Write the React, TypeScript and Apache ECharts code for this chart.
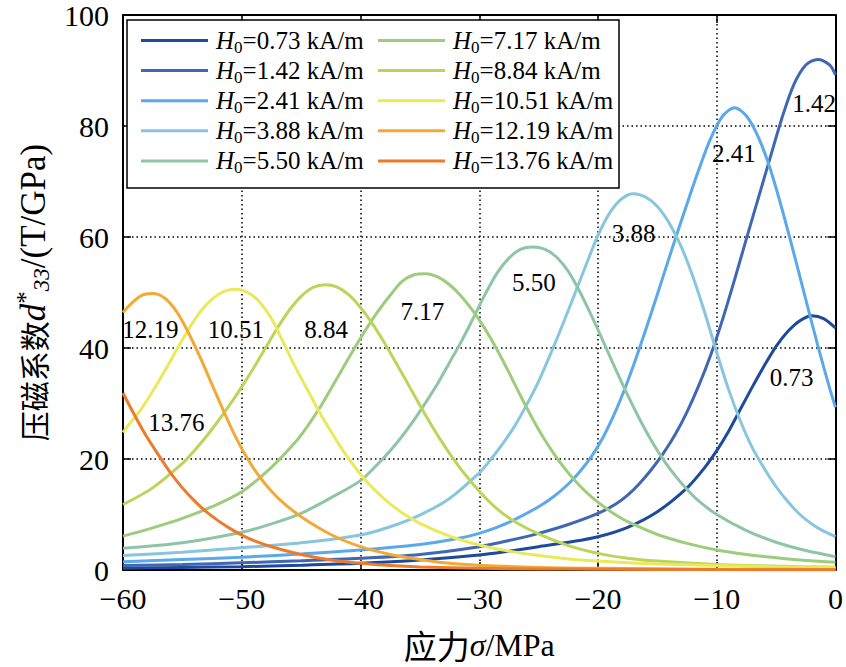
import React, { useEffect, useRef } from "react";
import * as echarts from "echarts";

// ---- data ----
const fieldValues = ["0.73", "1.42", "2.41", "3.88", "5.50", "7.17", "8.84", "10.51", "12.19", "13.76"];
const lineColors = ["#1d4a9b", "#3f67b6", "#5ba9ea", "#88c6df", "#8fc5a6", "#9ccc7c", "#bbd558", "#e9e95a", "#f2a936", "#ec7b2b"];

const sigma073 = [-60, -55, -50, -45, -40, -35, -30, -27.5, -25, -22.5, -20, -17.5, -15, -12.5, -11, -10, -9, -8, -7, -6, -5, -4, -3, -2, -1, 0];
const d073 = [0.3, 0.45, 0.6, 0.85, 1.2, 1.8, 2.7, 3.4, 4.2, 5.0, 6.0, 7.7, 10.5, 14.8, 18.5, 21.5, 25.0, 29.0, 33.0, 36.8, 40.3, 43.0, 44.9, 45.8, 45.3, 43.6];

const sigma142 = [-60, -55, -50, -45, -40, -35, -30, -27.5, -25, -22.5, -20, -18.5, -17.5, -16.5, -15.5, -14.5, -13.5, -12.5, -11.5, -10.5, -9.5, -8.5, -7.5, -6.5, -5.5, -4.5, -3.5, -2.5, -1.5, -0.5, 0];
const d142 = [0.8, 1.0, 1.3, 1.65, 2.1, 2.8, 4.2, 5.3, 6.6, 8.2, 10.2, 11.9, 13.5, 15.6, 18.1, 21.0, 24.4, 28.5, 33.3, 38.8, 45.2, 52.3, 59.7, 67.0, 74.3, 81.5, 87.5, 91.0, 92.0, 91.0, 89.2];

const sigma241 = [-60, -55, -50, -45, -40, -35, -32.5, -30, -27.5, -25, -23.75, -22.5, -21.5, -20.5, -19.5, -18.5, -17.5, -16.5, -15.5, -14.5, -13.5, -12.5, -11.5, -10.5, -9.5, -8.5, -7.5, -6.5, -5.5, -4.5, -3.5, -2.5, -1.5, -0.5, 0];
const d241 = [1.5, 1.9, 2.3, 2.9, 3.6, 4.6, 5.4, 6.6, 8.6, 11.4, 13.2, 15.5, 17.8, 20.6, 24.2, 28.7, 34.0, 40.0, 46.4, 53.0, 59.6, 66.0, 72.2, 77.8, 81.8, 83.3, 81.8, 78.0, 72.3, 65.0, 57.0, 48.7, 40.5, 32.8, 29.3];

const sigma388 = [-60, -55, -50, -45, -40, -37.5, -35, -32.5, -30, -29, -28, -27, -26, -25, -24, -23, -22, -21, -20, -19, -18, -17, -16, -15, -14, -13, -12, -11, -10, -9, -8, -7, -6, -5, -4, -3, -2, -1, 0];
const d388 = [2.6, 3.2, 4.0, 4.9, 6.3, 7.8, 9.9, 12.9, 17.5, 20.0, 22.8, 26.0, 29.8, 34.0, 38.9, 44.1, 49.5, 55.0, 60.3, 64.4, 66.9, 67.8, 67.2, 65.5, 62.5, 58.3, 52.8, 46.3, 39.2, 32.5, 26.8, 22.0, 18.3, 15.0, 12.3, 10.0, 8.3, 7.0, 6.0];

const sigma550 = [-60, -55, -50, -47.5, -45, -42.5, -40, -38.5, -37.5, -36.5, -35.5, -34.5, -33.5, -32.5, -31.5, -30.5, -29.5, -28.5, -27.5, -26.5, -25.5, -24.5, -23.5, -22.5, -21.5, -20.5, -19.5, -18.5, -17.5, -16.5, -15.5, -14.5, -13.5, -12.5, -11.5, -10, -7.5, -5, -2.5, 0];
const d550 = [3.9, 4.9, 6.8, 8.3, 10.2, 13.0, 16.1, 19.2, 21.5, 24.1, 27.0, 30.2, 33.6, 37.4, 41.2, 45.4, 49.7, 53.5, 56.2, 57.8, 58.2, 57.8, 56.4, 53.8, 50.0, 45.6, 40.9, 36.1, 31.5, 27.2, 23.3, 19.9, 17.0, 14.5, 12.4, 10.0, 7.1, 5.0, 3.5, 2.4];

const sigma717 = [-60, -57.5, -55, -52.5, -50, -47.5, -45.5, -44.5, -43.5, -42.5, -41.5, -40.5, -39.5, -38.5, -37.5, -36.5, -35.5, -34.5, -33.5, -32.5, -31.5, -30.5, -29.5, -28.5, -27.5, -26.5, -25.5, -24.5, -23.5, -22.5, -21.5, -20.5, -19.5, -18.5, -17.5, -15, -12.5, -10, -7.5, -5, -2.5, 0];
const d717 = [6.1, 7.6, 9.3, 11.4, 14.1, 18.5, 23.0, 25.8, 29.0, 32.6, 36.3, 40.0, 43.5, 46.7, 49.5, 52.0, 53.2, 53.4, 52.8, 51.4, 49.3, 46.6, 43.4, 39.7, 35.6, 31.3, 27.2, 23.5, 20.3, 17.5, 15.1, 13.1, 11.4, 9.9, 8.7, 6.4, 4.8, 3.6, 2.8, 2.2, 1.7, 1.4];

const sigma884 = [-60, -57.5, -55, -54, -53, -52, -51, -50, -49, -48, -47, -46, -45, -44, -43, -42, -41, -40, -39, -38, -37, -36, -35, -34, -33, -32, -31, -30, -28.5, -27, -25, -22.5, -20, -17.5, -15, -10, -5, 0];
const d884 = [11.8, 14.8, 19.2, 21.5, 24.0, 26.8, 29.8, 33.0, 36.4, 40.0, 43.6, 46.8, 49.3, 50.9, 51.4, 51.0, 49.6, 47.3, 44.4, 41.0, 37.3, 33.5, 29.7, 26.0, 22.6, 19.5, 16.7, 14.2, 11.0, 8.7, 6.5, 4.4, 3.0, 2.1, 1.6, 1.0, 0.7, 0.5];

const sigma1051 = [-60, -59.5, -58.5, -57.5, -56.5, -55.5, -54.5, -53.5, -52.5, -51.5, -50.5, -49.5, -48.5, -47.5, -46.5, -45.5, -44.5, -43.5, -42.5, -41.5, -40.5, -39.5, -38.5, -37.5, -36.5, -35, -32.5, -30, -27.5, -25, -22.5, -20, -15, -10, -5, 0];
const d1051 = [24.8, 26.2, 28.9, 32.2, 35.8, 39.6, 43.3, 46.5, 48.8, 50.2, 50.6, 50.0, 48.3, 45.3, 41.0, 36.6, 32.6, 28.6, 25.0, 21.6, 18.6, 16.0, 13.8, 11.9, 10.3, 8.4, 6.1, 4.5, 3.4, 2.6, 2.0, 1.6, 1.1, 0.8, 0.6, 0.5];

const sigma1219 = [-60, -59.5, -58.5, -57.5, -56.5, -55.5, -54.5, -53.5, -52.5, -51.5, -50.5, -49.5, -48.5, -47.5, -46.5, -45, -42.5, -40, -37.5, -35, -32.5, -30, -25, -20, -10, 0];
const d1219 = [46.4, 47.6, 49.4, 49.8, 49.0, 46.6, 42.8, 38.3, 33.4, 28.5, 23.9, 20.0, 16.8, 14.2, 12.1, 9.6, 6.4, 4.2, 2.8, 1.9, 1.2, 0.85, 0.45, 0.3, 0.15, 0.1];

const sigma1376 = [-60, -59, -58, -57, -56, -55, -54, -53, -52, -51, -50, -48.75, -47.5, -45, -42.5, -40, -37.5, -35, -30, -25, -20, -10, 0];
const d1376 = [31.9, 27.8, 24.0, 20.7, 17.5, 14.8, 12.5, 10.5, 8.9, 7.5, 6.3, 5.1, 4.2, 2.8, 1.8, 1.2, 0.8, 0.55, 0.3, 0.2, 0.15, 0.08, 0.05];

const sigmaSets = [sigma073, sigma142, sigma241, sigma388, sigma550, sigma717, sigma884, sigma1051, sigma1219, sigma1376];
const dSets = [d073, d142, d241, d388, d550, d717, d884, d1051, d1219, d1376];

// curve annotation positions in data coordinates [sigma, d33]
const curveLabelPos = [
  [-3.7, 34.6], [-1.8, 84.0], [-8.55, 75.0], [-17.0, 60.7], [-25.4, 51.8],
  [-34.8, 46.6], [-42.9, 43.3], [-50.5, 43.3], [-57.7, 43.3], [-55.5, 26.5],
];

const SERIF = "'Liberation Serif', 'Times New Roman', 'Noto Sans CJK SC', serif";
const CJK = "'Noto Sans CJK SC', sans-serif";

const seriesName = (v: string) => `H0=${v} kA/m`;

export default function App() {
  const ref = useRef<HTMLDivElement>(null);

  useEffect(() => {
    if (!ref.current) return;
    const chart = echarts.init(ref.current, null, { renderer: "svg" });

    const series = fieldValues.map((v, k) => ({
      type: "line",
      name: seriesName(v),
      data: sigmaSets[k].map((x, i) => [x, dSets[k][i]]),
      symbol: "none",
      showSymbol: false,
      smooth: 0.3,
      color: lineColors[k],
      lineStyle: { width: 3, color: lineColors[k] },
      itemStyle: { color: lineColors[k] },
      z: 2 + k * 0.01,
      markPoint: {
        symbol: "circle",
        symbolSize: 1,
        itemStyle: { color: "rgba(0,0,0,0)" },
        label: {
          show: true,
          position: "inside",
          formatter: v,
          color: "#000",
          fontSize: 25,
          fontFamily: SERIF,
        },
        data: [{ coord: curveLabelPos[k] }],
      },
    }));

    const legendText = {
      fontFamily: SERIF,
      fontSize: 25,
      color: "#000",
      rich: {
        i: { fontFamily: SERIF, fontStyle: "italic", fontSize: 25, lineHeight: 30, color: "#000", padding: [0, 0, 0, 3] },
        s: { fontFamily: SERIF, fontSize: 17, lineHeight: 16, verticalAlign: "bottom", color: "#000" },
        n: { fontFamily: SERIF, fontSize: 25, lineHeight: 30, color: "#000" },
      },
    };
    const legendFormatter = (name: string) => `{i|H}{s|0}{n|=${name.split("=")[1]}}`;

    const legendBase = {
      orient: "vertical",
      top: 28,
      itemWidth: 67,
      itemHeight: 3,
      itemGap: 2.6,
      padding: 0,
      icon: "rect",
      selectedMode: false,
      textStyle: legendText,
      formatter: legendFormatter,
      z: 10,
    };

    const minusFmt = (v: number) => (v < 0 ? "\u2212" + Math.abs(v) : String(v));
    const dotted = { type: [1.5, 3], color: "#000", width: 1.5 };

    const option = {
      animation: false,
      backgroundColor: "#fff",
      grid: { left: 123, top: 12, width: 715, height: 558, containLabel: false },
      legend: [
        { ...legendBase, left: 141, data: fieldValues.slice(0, 5).map(seriesName) },
        { ...legendBase, left: 378, data: fieldValues.slice(5).map(seriesName) },
      ],
      graphic: [
        {
          type: "rect",
          z: 8,
          shape: { x: 127, y: 20, width: 492, height: 168 },
          style: { fill: "#fff", stroke: "#000", lineWidth: 1.5 },
        },
      ],
      xAxis: [
        {
          type: "value",
          position: "bottom",
          min: -60,
          max: 0,
          interval: 10,
          axisLine: { show: true, onZero: false, lineStyle: { color: "#000", width: 2 } },
          axisTick: { show: true, inside: true, length: 8, lineStyle: { color: "#000", width: 1.5 } },
          axisLabel: { fontSize: 30, fontFamily: SERIF, color: "#000", margin: 13, formatter: minusFmt },
          splitLine: { show: true, lineStyle: dotted },
          name: "{c|应力}{i|σ}{n|/MPa}",
          nameLocation: "middle",
          nameGap: 58,
          nameTextStyle: {
            rich: {
              c: { fontFamily: CJK, fontSize: 33, color: "#000" },
              i: { fontFamily: SERIF, fontStyle: "italic", fontSize: 32, color: "#000" },
              n: { fontFamily: SERIF, fontSize: 32, color: "#000" },
            },
          },
        },
        {
          type: "value",
          position: "top",
          min: -60,
          max: 0,
          interval: 10,
          axisLine: { show: true, onZero: false, lineStyle: { color: "#000", width: 2 } },
          axisTick: { show: true, inside: true, length: 8, lineStyle: { color: "#000", width: 1.5 } },
          axisLabel: { show: false },
          splitLine: { show: false },
        },
      ],
      yAxis: [
        {
          type: "value",
          position: "left",
          min: 0,
          max: 100,
          interval: 20,
          axisLine: { show: true, onZero: false, lineStyle: { color: "#000", width: 2 } },
          axisTick: { show: true, inside: true, length: 8, lineStyle: { color: "#000", width: 1.5 } },
          axisLabel: { fontSize: 30, fontFamily: SERIF, color: "#000", margin: 14 },
          splitLine: { show: true, lineStyle: dotted },
          name: "{c|压磁系数}{i|d}{sup|*}{sub|33}{n|/(T/GPa)}",
          nameLocation: "middle",
          nameRotate: 90,
          nameGap: 66,
          nameTextStyle: {
            rich: {
              c: { fontFamily: CJK, fontSize: 30, lineHeight: 40, color: "#000" },
              i: { fontFamily: SERIF, fontStyle: "italic", fontSize: 35, lineHeight: 40, color: "#000" },
              sup: { fontFamily: SERIF, fontSize: 25, lineHeight: 20, verticalAlign: "top", color: "#000" },
              sub: { fontFamily: SERIF, fontStyle: "italic", fontSize: 23, lineHeight: 20, verticalAlign: "bottom", color: "#000" },
              n: { fontFamily: SERIF, fontSize: 35, lineHeight: 40, color: "#000" },
            },
          },
        },
        {
          type: "value",
          position: "right",
          min: 0,
          max: 100,
          interval: 20,
          axisLine: { show: true, onZero: false, lineStyle: { color: "#000", width: 2 } },
          axisTick: { show: true, inside: true, length: 8, lineStyle: { color: "#000", width: 1.5 } },
          axisLabel: { show: false },
          splitLine: { show: false },
        },
      ],
      series,
    };

    chart.setOption(option as any);
    return () => chart.dispose();
  }, []);

  return (
    <div
      ref={ref}
      style={{ position: "fixed", left: 0, top: 0, width: 846, height: 667, background: "#fff" }}
    />
  );
}
